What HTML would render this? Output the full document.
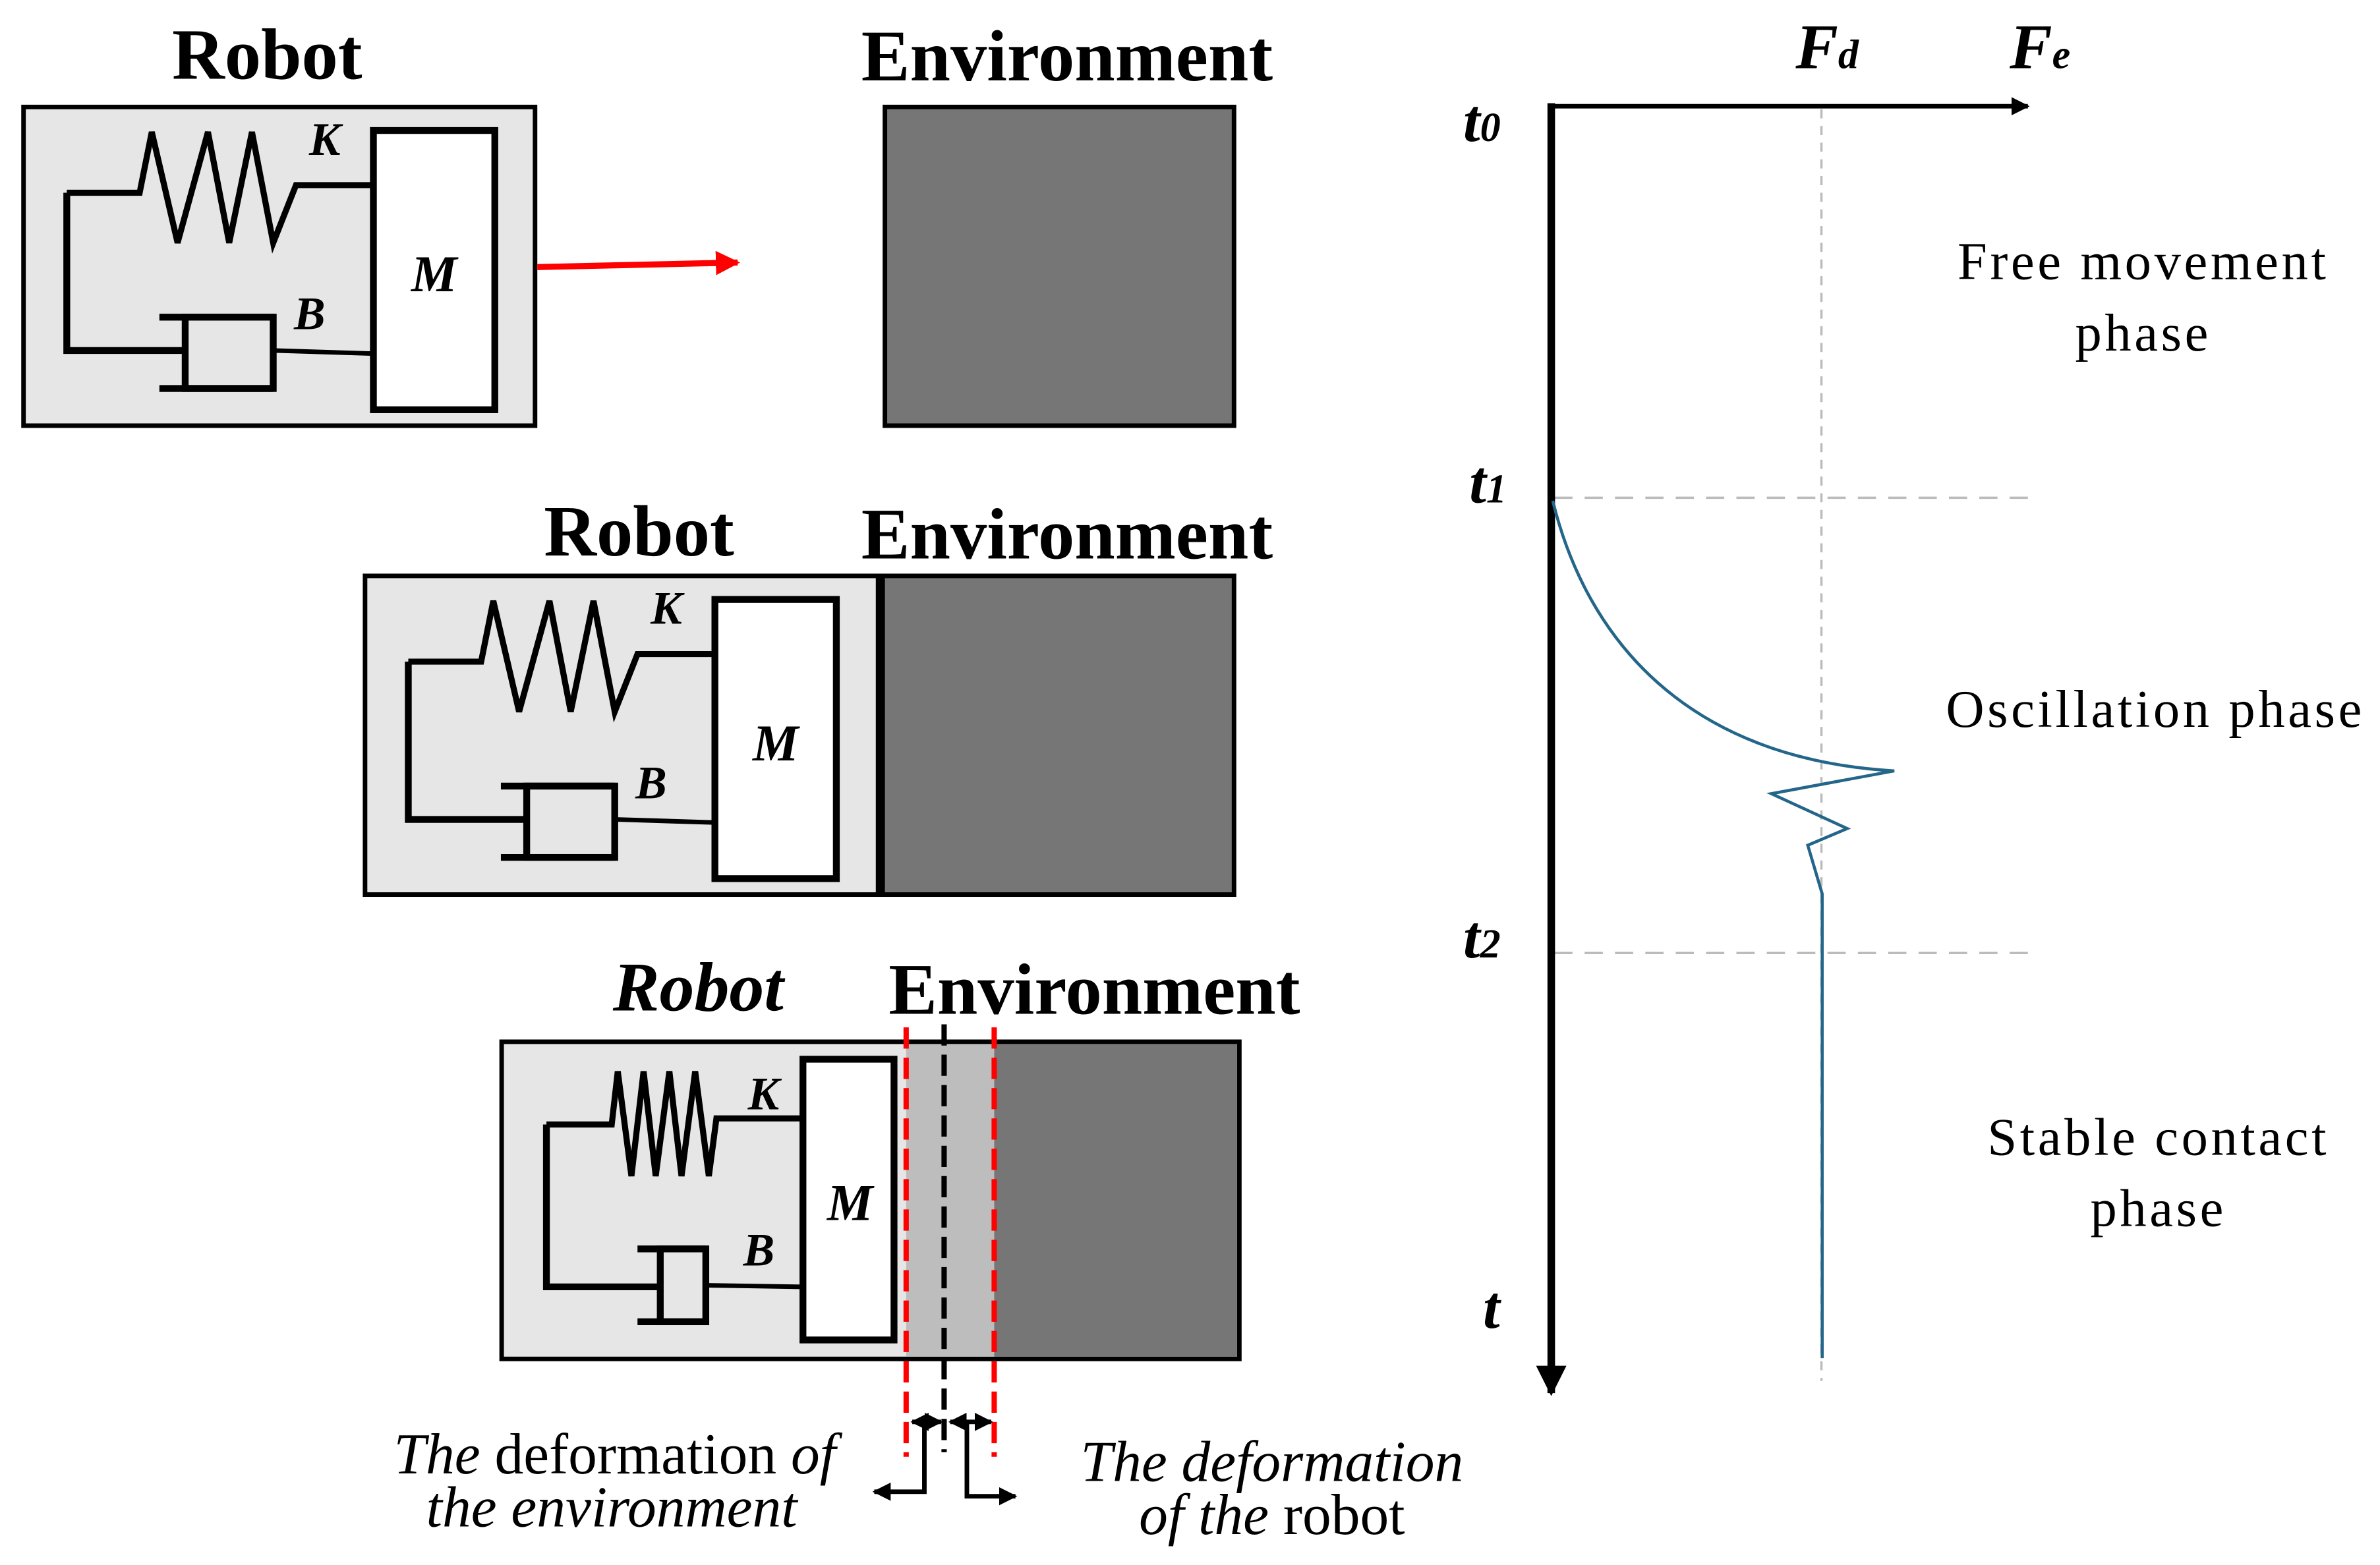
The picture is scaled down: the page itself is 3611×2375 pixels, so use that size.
<!DOCTYPE html>
<html><head><meta charset="utf-8"><style>
html,body{margin:0;padding:0;background:#fff;width:3611px;height:2375px;overflow:hidden}
svg{display:block}
text{font-family:"Liberation Serif",serif}
</style></head><body>
<svg width="3611" height="2375" viewBox="0 0 1568 1031.3" preserveAspectRatio="none" xmlns="http://www.w3.org/2000/svg">
<defs>
<marker id="ah" viewBox="0 0 10 10" refX="9" refY="5" markerWidth="4" markerHeight="4" orient="auto-start-reverse" markerUnits="strokeWidth"><path d="M0,0 L10,5 L0,10 z" fill="#000"/></marker>
<marker id="ahr" viewBox="0 0 10 10" refX="9" refY="5" markerWidth="4" markerHeight="4" orient="auto" markerUnits="strokeWidth"><path d="M0,0 L10,5 L0,10 z" fill="#f00"/></marker>
</defs>

<!-- Panel 1 -->
<text x="176" y="52" font-size="48" font-weight="bold" text-anchor="middle">Robot</text>
<text x="703" y="53" font-size="48" font-weight="bold" text-anchor="middle">Environment</text>
<rect x="15.5" y="70.5" width="337" height="210" fill="#e6e6e6" stroke="#000" stroke-width="3"/>
<rect x="583" y="70.5" width="230" height="210" fill="#767676" stroke="#000" stroke-width="3"/>
<g fill="none" stroke="#000" stroke-width="4.5">
<polyline points="44,127 44,231 122,231"/>
<polyline points="44,127 92,127 100,87 117,160 137,87 151,160 166,87 180,160 195,122 245,122" stroke-width="4"/>
<rect x="246" y="86" width="80" height="184" fill="#fff"/>
<rect x="122" y="209" width="58" height="47" fill="#e6e6e6"/>
<line x1="105" y1="209" x2="180" y2="209"/><line x1="105" y1="256" x2="180" y2="256"/>
<line x1="181" y1="231" x2="245" y2="233" stroke-width="3"/>
</g>
<text x="214" y="102" font-size="31" font-weight="bold" font-style="italic" text-anchor="middle">K</text>
<text x="204" y="217" font-size="31" font-weight="bold" font-style="italic" text-anchor="middle">B</text>
<text x="286" y="192" font-size="34" font-weight="bold" font-style="italic" text-anchor="middle">M</text>
<line x1="354" y1="176" x2="486" y2="173" stroke="#f00" stroke-width="4" marker-end="url(#ahr)"/>

<!-- Panel 2 -->
<text x="421" y="366" font-size="48" font-weight="bold" text-anchor="middle">Robot</text>
<text x="703" y="368" font-size="48" font-weight="bold" text-anchor="middle">Environment</text>
<rect x="240.5" y="379.5" width="340" height="210" fill="#e6e6e6" stroke="#000" stroke-width="3"/>
<rect x="580" y="379.5" width="233" height="210" fill="#767676" stroke="#000" stroke-width="3"/>
<line x1="580" y1="379" x2="580" y2="590" stroke="#000" stroke-width="6"/>
<g fill="none" stroke="#000" stroke-width="4.5" transform="translate(225,309)">
<polyline points="44,127 44,231 122,231"/>
<polyline points="44,127 92,127 100,87 117,160 137,87 151,160 166,87 180,160 195,122 245,122" stroke-width="4"/>
<rect x="246" y="86" width="80" height="184" fill="#fff"/>
<rect x="122" y="209" width="58" height="47" fill="#e6e6e6"/>
<line x1="105" y1="209" x2="180" y2="209"/><line x1="105" y1="256" x2="180" y2="256"/>
<line x1="181" y1="231" x2="245" y2="233" stroke-width="3"/>
</g>
<text x="439" y="411" font-size="31" font-weight="bold" font-style="italic" text-anchor="middle">K</text>
<text x="429" y="526" font-size="31" font-weight="bold" font-style="italic" text-anchor="middle">B</text>
<text x="511" y="501" font-size="34" font-weight="bold" font-style="italic" text-anchor="middle">M</text>

<!-- Panel 3 -->
<text x="460" y="666" font-size="46" font-weight="bold" font-style="italic" text-anchor="middle">Robot</text>
<text x="721" y="668" font-size="48" font-weight="bold" text-anchor="middle">Environment</text>
<rect x="330.5" y="686.5" width="486" height="209" fill="#e6e6e6" stroke="#000" stroke-width="3"/>
<rect x="597" y="688" width="58" height="206" fill="#bdbdbd"/>
<rect x="655" y="688" width="160" height="206" fill="#767676"/>
<g fill="none" stroke="#000" stroke-width="4.5">
<polyline points="360,741 360,848 434,848"/>
<polyline points="360,741 403,741 407,706 416,775 424,706 432,775 441,706 449,775 458,706 467,775 472,737 528,737" stroke-width="4"/>
<rect x="529" y="698" width="60" height="185" fill="#fff"/>
<rect x="435" y="823" width="30" height="48" fill="#e6e6e6"/>
<line x1="420" y1="823" x2="465" y2="823"/><line x1="420" y1="871" x2="465" y2="871"/>
<line x1="466" y1="847" x2="528" y2="848" stroke-width="3"/>
</g>
<text x="503" y="731" font-size="31" font-weight="bold" font-style="italic" text-anchor="middle">K</text>
<text x="500" y="834" font-size="31" font-weight="bold" font-style="italic" text-anchor="middle">B</text>
<text x="560" y="804" font-size="34" font-weight="bold" font-style="italic" text-anchor="middle">M</text>
<g stroke-width="3.5" fill="none">
<line x1="597" y1="677" x2="597" y2="960" stroke="#f00" stroke-dasharray="14,6"/>
<line x1="655" y1="677" x2="655" y2="960" stroke="#f00" stroke-dasharray="14,6"/>
<line x1="622" y1="675" x2="622" y2="957" stroke="#000" stroke-dasharray="14,6"/>
</g>
<g stroke="#000" stroke-width="3" fill="none">
<line x1="601" y1="937" x2="620" y2="937" marker-start="url(#ah)" marker-end="url(#ah)"/>
<line x1="626" y1="937" x2="653" y2="937" marker-start="url(#ah)" marker-end="url(#ah)"/>
<polyline points="609,937 609,983 576,983" marker-end="url(#ah)"/>
<polyline points="637,937 637,986 669,986" marker-end="url(#ah)"/>
</g>
<text x="405" y="971" font-size="38" text-anchor="middle"><tspan font-style="italic">The</tspan> deformation <tspan font-style="italic">of</tspan></text>
<text x="403" y="1006" font-size="38" font-style="italic" text-anchor="middle">the environment</text>
<text x="838" y="976" font-size="38" font-style="italic" text-anchor="middle">The deformation</text>
<text x="838" y="1011" font-size="38" text-anchor="middle"><tspan font-style="italic">of the</tspan> robot</text>

<!-- Graph -->
<g stroke="#bbb" stroke-width="1.5" stroke-dasharray="6,5" fill="none">
<line x1="1200" y1="72" x2="1200" y2="910"/>
<line x1="1024" y1="328" x2="1338" y2="328" stroke-dasharray="12,8"/>
<line x1="1024" y1="628" x2="1338" y2="628" stroke-dasharray="12,8"/>
</g>
<line x1="1022" y1="70" x2="1336" y2="70" stroke="#000" stroke-width="3" marker-end="url(#ah)"/>
<line x1="1022" y1="68" x2="1022" y2="918" stroke="#000" stroke-width="5" marker-end="url(#ah)"/>
<path d="M1023,330 C1045,420 1110,500 1248,508 L1167,523 L1217,546 L1191,557 L1200.5,589 L1200.5,895" fill="none" stroke="#23668a" stroke-width="2"/>
<g font-weight="bold" font-style="italic">
<text x="964" y="93" font-size="40">t<tspan font-size="27">0</tspan></text>
<text x="968" y="331" font-size="40">t<tspan font-size="27">1</tspan></text>
<text x="964" y="631" font-size="40">t<tspan font-size="27">2</tspan></text>
<text x="977" y="875" font-size="40">t</text>
<text x="1183" y="45" font-size="42">F<tspan font-size="27">d</tspan></text>
<text x="1324" y="45" font-size="42">F<tspan font-size="27">e</tspan></text>
</g>
<g font-size="35" text-anchor="middle" letter-spacing="2">
<text x="1412" y="184">Free movement</text>
<text x="1412" y="231">phase</text>
<text x="1420" y="479">Oscillation phase</text>
<text x="1422" y="761">Stable contact</text>
<text x="1422" y="808">phase</text>
</g>
</svg>
</body></html>
